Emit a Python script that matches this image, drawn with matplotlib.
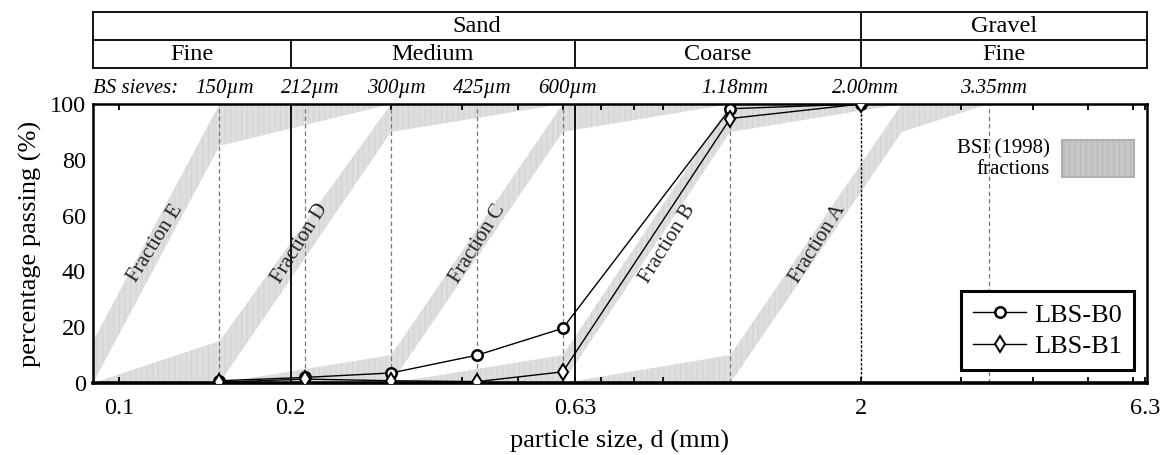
import numpy as np
import matplotlib
matplotlib.use("Agg")
import matplotlib.pyplot as plt
from matplotlib.patches import Rectangle
from matplotlib.ticker import FixedLocator, FixedFormatter, NullFormatter

plt.rcParams['font.family'] = ['Liberation Serif', 'DejaVu Serif']
plt.rcParams['hatch.linewidth'] = 0.5

# ---- measured gradings (sieve size in mm, % passing) ----
sieve_mm = [0.15, 0.212, 0.3, 0.425, 0.6, 1.18, 2.0]
lbs_b0 = [0.8, 2.0, 3.6, 10.0, 19.6, 98.3, 100.0]
lbs_b1 = [0.3, 1.4, 0.8, 0.5, 4.0, 94.8, 100.0]

# ---- BS sieve set shown above the plot ----
bs_sieves = [0.15, 0.212, 0.3, 0.425, 0.6, 1.18, 2.0, 3.35]
bs_labels = ['150µm', '212µm', '300µm', '425µm', '600µm', '1.18mm', '2.00mm', '3.35mm']

# ---- BSI (1998) fraction envelopes: sizes, lower and upper limits ----
fracA_d = [0.6, 1.18, 2.36, 3.35]
fracA_lo = [0, 0, 90, 100]
fracA_hi = [0, 10, 100, 100]
fracB_d = [0.3, 0.6, 1.18, 2.36]
fracB_lo = [0, 0, 90, 100]
fracB_hi = [0, 10, 100, 100]
fracC_d = [0.15, 0.3, 0.6, 1.18]
fracC_lo = [0, 0, 90, 100]
fracC_hi = [0, 10, 100, 100]
fracD_d = [0.09, 0.15, 0.3, 0.6]
fracD_lo = [0, 0, 90, 100]
fracD_hi = [0, 15, 100, 100]
fracE_d = [0.09, 0.15, 0.3]
fracE_lo = [0, 85, 100]
fracE_hi = [15, 100, 100]

# label anchor (size in mm) for each fraction name
frac_names = ['Fraction A', 'Fraction B', 'Fraction C', 'Fraction D', 'Fraction E']
frac_label_x = [1.68, 0.915, 0.425, 0.208, 0.116]

# ---- soil classification header ----
class_bounds = [0.2, 0.63, 2.0]
header_top = ['Sand', 'Gravel']
header_bottom = ['Fine', 'Medium', 'Coarse', 'Fine']

xmin, xmax = 0.09, 6.35
xticks = [0.1, 0.2, 0.63, 2, 6.3]
xtick_labels = ['0.1', '0.2', '0.63', '2', '6.3']
xminor = [0.3, 0.4, 0.5, 0.6, 0.7, 0.8, 0.9, 3, 4, 5, 6]

band_face = '#dedede'
band_hatch = '#cdcdcd'

fig = plt.figure(figsize=(11.68, 4.55), dpi=100)
ax = fig.add_axes([93 / 1168, 72 / 455, 1054 / 1168, 279 / 455])
ax.set_xscale('log')
ax.set_xlim(xmin, xmax)
ax.set_ylim(0, 100)

for d, lo, hi in [(fracA_d, fracA_lo, fracA_hi), (fracB_d, fracB_lo, fracB_hi),
                  (fracC_d, fracC_lo, fracC_hi), (fracD_d, fracD_lo, fracD_hi),
                  (fracE_d, fracE_lo, fracE_hi)]:
    ax.fill_between(d, lo, hi, facecolor=band_face, edgecolor='none', lw=0, zorder=1)
    ax.fill_between(d, lo, hi, facecolor='none', edgecolor=band_hatch, hatch='|||',
                    lw=0, zorder=1.1)

for name, xl in zip(frac_names, frac_label_x):
    ax.text(xl, 50, name, rotation=58, ha='center', va='center', fontsize=15,
            color='#222222', zorder=3, rotation_mode='anchor')

# sieve lines
for s in bs_sieves:
    if s == 2.0:
        ax.axvline(s, color='black', lw=1.0, ls=(0, (2.0, 1.2)), zorder=2)
    else:
        ax.axvline(s, color='#777777', lw=0.9, ls=(0, (3.5, 2.5)), zorder=2)
for b in class_bounds[:2]:
    ax.axvline(b, color='black', lw=1.3, zorder=2.5)

l0, = ax.plot(sieve_mm, lbs_b0, color='black', lw=1.0, marker='o', ms=7.5,
              mfc='white', mec='black', mew=1.8, label='LBS-B0', zorder=5)
l1, = ax.plot(sieve_mm, lbs_b1, color='black', lw=1.0, marker='d', ms=8,
              mfc='white', mec='black', mew=1.4, label='LBS-B1', zorder=5)

leg = ax.legend(handles=[l0, l1], loc='lower right', fontsize=19, fancybox=False,
                edgecolor='black', framealpha=1, borderpad=0.45, handlelength=2.0,
                handletextpad=0.3, labelspacing=0.3, borderaxespad=0.5)
leg.get_frame().set_linewidth(2.2)
leg.set_zorder(6)

# BSI legend swatch
ax.add_patch(Rectangle((0.919, 0.738), 0.069, 0.133, transform=ax.transAxes,
                       facecolor='#c6c6c6', edgecolor='#b0b0b0', lw=1.5,
                       hatch='|||', zorder=6))
ax.text(0.908, 0.803, 'BSI (1998)\nfractions', transform=ax.transAxes, ha='right',
        va='center', multialignment='right', fontsize=15, linespacing=1.1, zorder=6)

# axes styling
ax.xaxis.set_major_locator(FixedLocator(xticks))
ax.xaxis.set_major_formatter(FixedFormatter(xtick_labels))
ax.xaxis.set_minor_locator(FixedLocator(xminor))
ax.xaxis.set_minor_formatter(NullFormatter())
ax.tick_params(axis='x', which='both', direction='in', top=True, length=4, width=1.3,
               labelsize=17.5, pad=11)
ax.set_yticks([0, 20, 40, 60, 80, 100])
ax.tick_params(axis='y', length=0, labelsize=17.5, pad=5)
for side, w in [('bottom', 2.6), ('top', 1.8), ('left', 1.8), ('right', 1.8)]:
    ax.spines[side].set_linewidth(w)
ax.set_xlabel('particle size, d (mm)', fontsize=19, labelpad=8)
ax.set_ylabel('percentage passing (%)', fontsize=19, labelpad=6)

# BS sieve labels
ax.text(0.0, 1.057, 'BS sieves:', transform=ax.transAxes, ha='left', va='center',
        fontsize=15, style='italic')
for s, lab in zip(bs_sieves, bs_labels):
    ax.text(s * 1.02, 1.057, lab, transform=ax.get_xaxis_transform(), ha='center',
            va='center', fontsize=15, style='italic')

# classification header
hax = fig.add_axes([93 / 1168, 387 / 455, 1054 / 1168, 56 / 455])
hax.set_xscale('log')
hax.set_xlim(xmin, xmax)
hax.set_ylim(0, 2)
hax.set_xticks([])
hax.set_yticks([])
hax.minorticks_off()
for sp in hax.spines.values():
    sp.set_linewidth(1.3)
hax.axhline(1, color='black', lw=1.3)
hax.vlines(class_bounds[2], 0, 2, color='black', lw=1.3)
hax.vlines(class_bounds[:2], 0, 1, color='black', lw=1.3)

top_edges = [xmin, class_bounds[2], xmax]
for i, lab in enumerate(header_top):
    xc = np.sqrt(top_edges[i] * top_edges[i + 1])
    hax.text(xc, 1.5, lab, ha='center', va='center', fontsize=17.5)
bot_edges = [xmin] + class_bounds + [xmax]
for i, lab in enumerate(header_bottom):
    xc = np.sqrt(bot_edges[i] * bot_edges[i + 1])
    hax.text(xc, 0.5, lab, ha='center', va='center', fontsize=17.5)

fig.savefig('out.png', dpi=100)
